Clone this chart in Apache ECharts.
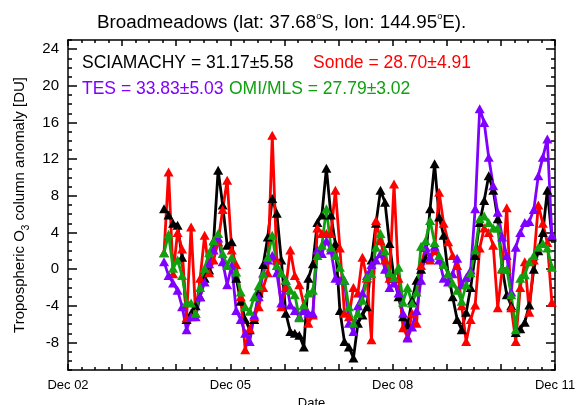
<!DOCTYPE html>
<html>
<head>
<meta charset="utf-8">
<script src="https://cdn.jsdelivr.net/npm/echarts@6/dist/echarts.min.js"></script>
<style>
  html, body { margin: 0; padding: 0; background: #fff; }
  #chart { width: 577px; height: 405px; }
</style>
</head>
<body>
<div id="chart"></div>
<script>
// monthly anomalies, first value = Sep 2004, one value per month
const startMonth = '2004-09'
const xTickLabels = { 0: 'Dec 02', 36: 'Dec 05', 72: 'Dec 08', 108: 'Dec 11' }
const yTickLabels = [-8, -4, 0, 4, 8, 12, 16, 20, 24]

const sciamachy = [
  6.6, 5.9, 5.0, 4.8, 1.3, -5.5, -4.8, -4.0, -3.0, -1.0, -0.1, 3.1,
  10.8, 7.0, 2.6, 3.0, -1.0, -3.5, -5.5, -6.6, -5.5, -2.6, 0.5, 3.5,
  7.7, 6.1, 1.0, -4.8, -6.8, -7.0, -7.2, -8.5, -1.0, 0.6, 5.1, 5.9,
  11.0, 5.9, 2.8, -4.5, -7.9, -8.5, -9.7, -5.9, -5.0, -4.1, 1.0, 5.0,
  8.6, 7.3, 2.8, -1.0, -3.0, -5.2, -6.1, -3.4, -1.2, 0.0, 1.2, 6.6,
  11.5, 5.7, 3.7, -0.5, -3.0, -5.5, -6.6, -4.7, -2.0, 1.5, 5.1, 7.5,
  10.2, 8.6, 5.5, 0.1, -2.8, -4.0, -6.9, -6.5, -5.8, -3.9, 0.0, 2.0,
  4.0, 8.6, 3.5
]
const sonde = [
  1.8, 10.6, -0.5, 4.0, 2.2, -5.3, 4.6, -4.8, -1.0, 3.7, -0.4, 1.0,
  3.0, 6.5, 9.7, 2.1, 0.5, -3.0, -8.8, -6.5, -5.2, -4.1, -2.0, -0.4,
  14.6, 1.0, -4.1, -2.0, 2.1, -0.7, -1.7, -3.9, -5.9, -5.0, 4.5, 3.9,
  3.9, 3.9, 8.6, 2.3, -4.8, -5.2, -2.0, -2.6, 1.3, -1.0, -7.7, 5.3,
  3.1, 1.0, -1.0, 9.3, -1.0, -6.4, -7.4, -4.8, -5.9, 0.4, 2.4, 1.0,
  2.0, 8.4, 5.0, 3.0, 1.5, 0.4, -4.0, -7.9, -5.5, -3.9, 2.3, 4.5,
  4.0, 2.6, -4.2, 0.0, 6.7, -4.2, -7.9, -2.0, 0.8, -4.7, 1.0, 7.0,
  5.0, 2.9, -3.6
]
const tes = [
  0.8, -0.7, -1.5, -2.3, -4.1, -6.6, -5.2, -5.2, -3.0, -1.4, 0.6, 2.1,
  3.4, 0.8, -1.7, 0.4, -4.5, -5.5, -7.0, -7.9, -5.0, -3.0, -0.4, 1.0,
  1.5, -0.4, -3.7, -1.2, -3.9, -4.5, -5.2, -4.5, -4.8, -4.8, 2.1, 1.7,
  3.1, 2.1, -1.0, -1.2, -1.2, -5.9, -6.8, -4.0, -2.6, -0.7, 0.5, 1.0,
  1.7, 0.0, -2.0, -1.5, -2.6, -4.8, -7.5, -6.3, -4.5, -1.2, 2.4, 1.3,
  2.5, 1.0, -1.0, -1.4, -0.5, 1.2, -1.7, -0.9, -0.1, 6.6, 17.5, 16.0,
  12.2, 9.1, 6.2, 3.5, 1.5, -2.5, 2.4, 4.0, 5.1, 5.2, 6.5, 10.2,
  12.2, 14.2, 3.7
]
const omiMls = [
  1.8, 3.8, 0.1, 1.0, -0.7, -3.6, -3.7, -4.8, -2.0, 0.1, 1.8, 3.1,
  3.9, 1.7, 0.4, 1.3, -0.3, -2.5, -4.1, -4.6, -3.0, -1.8, -0.5, 1.3,
  3.7, 0.4, -0.4, -1.2, -2.3, -2.8, -5.3, -3.9, -2.6, -2.3, 1.5, 2.6,
  6.6, 2.4, 1.5, 0.2, -1.2, -4.1, -5.9, -4.8, -3.4, -0.9, -0.5, 2.4,
  3.9, 2.0, -0.4, -0.9, 0.2, -3.6, -2.0, -3.7, -2.5, 2.5, 3.1, 5.3,
  2.9, 1.5, 0.5, -0.5, -1.5, -2.3, -3.5, -1.7, -0.4, 2.1, 5.5, 5.8,
  5.1, 4.5, 4.5, 0.1, 0.0, -2.8, -6.6, -1.0, -0.6, 0.8, 1.5, 2.4,
  2.8, 2.3, 0.2
]

const seriesInfo = [
  { name: 'SCIAMACHY', data: sciamachy, color: '#000000' },
  { name: 'Sonde', data: sonde, color: '#ff0000' },
  { name: 'TES', data: tes, color: '#8000ff' },
  { name: 'OMI/MLS', data: omiMls, color: '#10a010' }
]

const FONT = 'Liberation Sans, Arial, sans-serif'

// months since Dec 2002 (value taken around the 10th of the month)
const monthIndex = (str) => {
  const [y, m] = str.split('-').map(Number)
  return (y - 2002) * 12 + (m - 12) + 0.3
}
const x0 = monthIndex(startMonth)

const chart = echarts.init(document.getElementById('chart'), null, { renderer: 'canvas' })

const baseX = {
  type: 'value', min: 0, max: 108, gridIndex: 0,
  splitLine: { show: false }
}
const baseY = {
  type: 'value', min: -11, max: 25, gridIndex: 0,
  splitLine: { show: false }
}
const line = { show: true, onZero: false, lineStyle: { color: '#000', width: 1.5 } }
const noLine = { show: false, onZero: false }
const tick = (len, extra) => ({ inside: true, length: len, lineStyle: { color: '#000', width: 1.5 }, ...extra })

chart.setOption({
  animation: false,
  textStyle: { fontFamily: FONT },
  grid: { left: 68, right: 22, top: 40, bottom: 35, outerBoundsMode: 'none', containLabel: false },
  xAxis: [
    {
      ...baseX, position: 'bottom', interval: 3,
      axisLine: line,
      axisTick: tick(3),
      axisLabel: {
        color: '#000', fontSize: 13, fontFamily: FONT, margin: 9,
        formatter: (v) => xTickLabels[v] || ''
      },
      name: 'Date', nameLocation: 'middle', nameGap: 27,
      nameTextStyle: { color: '#000', fontSize: 13, fontFamily: FONT }
    },
    { ...baseX, position: 'bottom', interval: 12, axisLine: noLine, axisTick: tick(6), axisLabel: { show: false } },
    { ...baseX, position: 'top', interval: 3, axisLine: line, axisTick: tick(3), axisLabel: { show: false } },
    { ...baseX, position: 'top', interval: 12, axisLine: noLine, axisTick: tick(6), axisLabel: { show: false } }
  ],
  yAxis: [
    {
      ...baseY, position: 'left', interval: 1,
      axisLine: line,
      axisTick: tick(4),
      axisLabel: {
        color: '#000', fontSize: 15, fontFamily: FONT, margin: 9,
        formatter: (v) => (yTickLabels.includes(v) ? String(v) : '')
      },
      name: '{n|Tropospheric O}{sub|3}{n| column anomaly [DU]}',
      nameLocation: 'middle', nameGap: 37,
      nameTextStyle: {
        color: '#000', fontFamily: FONT,
        rich: {
          n: { fontSize: 15, lineHeight: 22, verticalAlign: 'middle', fontFamily: FONT, color: '#000' },
          sub: { fontSize: 10, lineHeight: 22, verticalAlign: 'bottom', fontFamily: FONT, color: '#000' }
        }
      }
    },
    { ...baseY, position: 'left', axisLine: noLine, axisTick: tick(9, { customValues: yTickLabels }), axisLabel: { show: false } },
    { ...baseY, position: 'right', interval: 1, axisLine: line, axisTick: tick(4), axisLabel: { show: false } },
    { ...baseY, position: 'right', axisLine: noLine, axisTick: tick(9, { customValues: yTickLabels }), axisLabel: { show: false } }
  ],
  series: seriesInfo.map((s) => ({
    name: s.name,
    type: 'line',
    xAxisIndex: 0,
    yAxisIndex: 0,
    data: s.data.map((v, i) => [x0 + i, v]),
    symbol: 'triangle',
    symbolSize: [10, 9],
    showAllSymbol: true,
    lineStyle: { color: s.color, width: 2.8 },
    itemStyle: { color: s.color },
    emphasis: { disabled: true }
  })),
  graphic: [
    {
      type: 'text', left: 97, top: 12,
      style: {
        text: '{t|Broadmeadows (lat: 37.68}{s|o}{t|S, lon: 144.95}{s|o}{t|E).}',
        rich: {
          t: { fontSize: 18.8, lineHeight: 22, verticalAlign: 'middle', fontFamily: FONT, fill: '#000' },
          s: { fontSize: 9, lineHeight: 22, verticalAlign: 'top', fontFamily: FONT, fill: '#000' }
        }
      }
    },
    { type: 'text', left: 82, top: 54, style: { text: 'SCIAMACHY = 31.17\u00b15.58', fontSize: 17.5, fontFamily: FONT, fill: '#000' } },
    { type: 'text', left: 313, top: 54, style: { text: 'Sonde = 28.70\u00b14.91', fontSize: 17.5, fontFamily: FONT, fill: '#ff0000' } },
    { type: 'text', left: 82, top: 80, style: { text: 'TES = 33.83\u00b15.03', fontSize: 17.5, fontFamily: FONT, fill: '#8000ff' } },
    { type: 'text', left: 229, top: 80, style: { text: 'OMI/MLS = 27.79\u00b13.02', fontSize: 17.5, fontFamily: FONT, fill: '#10a010' } }
  ]
})
</script>
</body>
</html>
